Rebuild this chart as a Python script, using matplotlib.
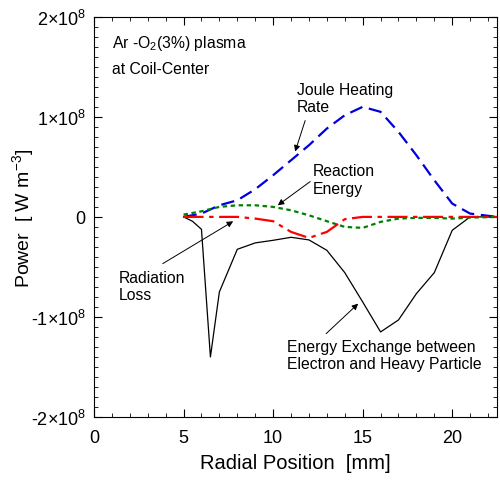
import matplotlib
matplotlib.use("Agg")
import matplotlib.pyplot as plt
from matplotlib.ticker import MultipleLocator, FixedLocator, FixedFormatter

plt.rcParams["font.family"] = ["Liberation Sans", "DejaVu Sans"]
plt.rcParams["mathtext.fontset"] = "custom"
plt.rcParams["mathtext.rm"] = "Liberation Sans"
plt.rcParams["mathtext.it"] = "Liberation Sans:italic"

# radial position [mm]
r = [5, 5.5, 6, 6.5, 7, 8, 9, 10, 11, 12, 13, 14, 15, 16, 17, 18, 19, 20, 21, 22.5]
r_grid = [5, 6, 7, 8, 9, 10, 11, 12, 13, 14, 15, 16, 17, 18, 19, 20, 21, 22.5]

# power [W m-3]
exchange = [0, -0.044e8, -0.124e8, -1.40e8, -0.75e8, -0.324e8, -0.26e8, -0.234e8,
            -0.204e8, -0.23e8, -0.334e8, -0.557e8, -0.85e8, -1.15e8, -1.03e8,
            -0.767e8, -0.557e8, -0.134e8, 0, 0]
joule = [0, 0.033e8, 0.116e8, 0.166e8, 0.276e8, 0.416e8, 0.566e8, 0.716e8, 0.883e8,
         1.016e8, 1.10e8, 1.05e8, 0.85e8, 0.616e8, 0.366e8, 0.133e8, 0.033e8, 0]
reaction = [0.023e8, 0.056e8, 0.10e8, 0.116e8, 0.116e8, 0.10e8, 0.066e8, 0.016e8,
            -0.043e8, -0.10e8, -0.11e8, -0.05e8, -0.017e8, -0.01e8, -0.01e8,
            -0.017e8, -0.007e8, 0]
radiation = [0, 0, 0, 0, -0.017e8, -0.043e8, -0.15e8, -0.21e8, -0.15e8, -0.023e8,
             0, 0, 0, 0, 0, 0, 0, 0]

ytick_vals = [-2e8, -1e8, 0, 1e8, 2e8]
ytick_labels = ["-2×10$^{8}$", "-1×10$^{8}$", "0", "1×10$^{8}$", "2×10$^{8}$"]

fig = plt.figure(figsize=(5, 4.81), dpi=100)
ax = fig.add_axes([0.188, 0.131, 0.806, 0.832])

ax.plot(r, exchange, color="black", lw=0.9)
ax.plot(r_grid, joule, color="#0000dd", lw=1.6, dashes=(6, 3))
ax.plot(r_grid, reaction, color="#008000", lw=1.6, dashes=(2, 1.6))
ax.plot(r_grid, radiation, color="#ff0000", lw=1.6, dashes=(9, 2.5, 2, 2.5))

ax.set_xlim(0, 22.5)
ax.set_ylim(-2e8, 2e8)
ax.xaxis.set_major_locator(MultipleLocator(5))
ax.xaxis.set_minor_locator(MultipleLocator(1))
ax.yaxis.set_major_locator(FixedLocator(ytick_vals))
ax.yaxis.set_major_formatter(FixedFormatter(ytick_labels))
ax.yaxis.set_minor_locator(MultipleLocator(1e7))
ax.tick_params(which="both", direction="in", top=True, right=True, labelsize=13)
ax.tick_params(which="major", length=6)
ax.tick_params(which="minor", length=3)
ax.tick_params(axis="x", pad=9)
ax.tick_params(axis="y", pad=6)

ax.set_xlabel("Radial Position  [mm]", fontsize=14.5, labelpad=5)
ax.set_ylabel(r"Power  [ W m$^{-3}$]", fontsize=14)
ax.yaxis.set_label_coords(-0.145, 0.5)

fs = 11.3
ax.text(0.99, 1.743e8, r"Ar -O$_2$(3%) plasma", fontsize=fs, va="center")
ax.text(0.99, 1.483e8, "at Coil-Center", fontsize=fs, va="center")

ax.text(11.34, 1.19e8, "Joule Heating\nRate", fontsize=fs, va="center", linespacing=1.2)
ax.text(12.2, 0.375e8, "Reaction\nEnergy", fontsize=fs, va="center", linespacing=1.2)
ax.text(1.36, -0.69e8, "Radiation\nLoss", fontsize=fs, va="center", linespacing=1.2)
ax.text(10.8, -1.38e8, "Energy Exchange between\nElectron and Heavy Particle",
        fontsize=fs, va="center", linespacing=1.2)

arrow = dict(arrowstyle="-|>", color="black", lw=0.7, mutation_scale=9,
             shrinkA=0, shrinkB=0)
ax.annotate("", xy=(11.23, 0.653e8), xytext=(11.79, 0.963e8), arrowprops=arrow)
ax.annotate("", xy=(10.26, 0.116e8), xytext=(12.07, 0.353e8), arrowprops=arrow)
ax.annotate("", xy=(7.77, -0.044e8), xytext=(3.84, -0.467e8), arrowprops=arrow)
ax.annotate("", xy=(14.75, -0.867e8), xytext=(12.96, -1.167e8), arrowprops=arrow)

fig.savefig("out.png", dpi=100)
